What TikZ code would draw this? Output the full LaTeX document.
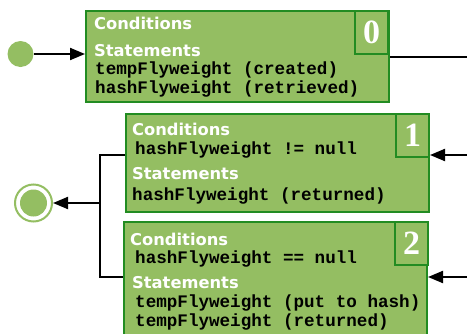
\documentclass[tikz,border=0pt]{standalone}
\usepackage{fontspec}
\setmonofont{Liberation Mono}
\newfontfamily\headfont{DejaVu Sans}
\newfontfamily\numfont{Liberation Serif}
\usetikzlibrary{arrows.meta}
\definecolor{leaf}{RGB}{148,190,98}
\definecolor{moss}{RGB}{34,140,34}

\begin{document}
\begin{tikzpicture}[x=1pt, y=-1pt,
        state/.style={draw=moss, line width=2pt, fill=leaf, anchor=north west, inner sep=0pt},
        numbox/.style={state, minimum width=33pt, minimum height=43pt, text=white, font=\numfont\bfseries\fontsize{34}{34}\selectfont},
        head/.style={anchor=base west, inner sep=0pt, text=white, font=\headfont\bfseries\fontsize{16.3}{18}\selectfont},
        code/.style={anchor=base west, inner sep=0pt, font=\ttfamily\bfseries\fontsize{17.6}{20}\selectfont},
        wire/.style={line width=2pt},
        arr/.style={wire, -{Triangle[length=15pt, width=12pt]}}]
            \useasboundingbox (0, 0) rectangle (467, 333);
            % states with their numbers
            \foreach \i/\x/\y/\h in {0/85/10/91, 1/125/113/98, 2/123/221/116}
                \node[state, minimum width=303pt, minimum height=\h pt] (box\i) at (\x, \y) {};
            \foreach \i/\x/\y in {0/354/10, 1/395/113, 2/394/221}
                \node[numbox] (num\i) at (\x, \y) {\i};

            \node[head] (cond0) at (94, 29) {Conditions};
            \node[head] (stat0) at (94, 56) {Statements};
            \node[code] (code0a) at (95, 74) {tempFlyweight (created)};
            \node[code] (code0b) at (95, 93) {hashFlyweight (retrieved)};

            \node[head] (cond1) at (132, 135) {Conditions};
            \node[code] (code1a) at (135, 154) {hashFlyweight != null};
            \node[head] (stat1) at (132, 179) {Statements};
            \node[code] (code1b) at (132, 200) {hashFlyweight (returned)};

            \node[head] (cond2) at (130, 245) {Conditions};
            \node[code] (code2a) at (135, 263) {hashFlyweight == null};
            \node[head] (stat2) at (132, 288) {Statements};
            \node[code] (code2b) at (135, 307) {tempFlyweight (put to hash)};
            \node[code] (code2c) at (135, 326) {tempFlyweight (returned)};

            % start and end
            \node[circle, fill=leaf, inner sep=0pt, minimum size=26pt] (start) at (20.5, 54) {};
            \node[circle, draw=leaf, line width=2pt, fill=white, inner sep=0pt, minimum size=37pt] (stop) at (33.5, 203) {};
            \node[circle, fill=leaf, inner sep=0pt, minimum size=27pt] (stopdot) at (stop) {};

            % connectors
            \coordinate (out0) at (467, 55);
            \coordinate (in1) at (467, 155);
            \coordinate (in2) at (467, 277);
            \coordinate (fork) at (100, 203);
            \draw[arr] (start) -- (start -| box0.west);
            \draw[wire] (box0.east) -- (box0.east -| out0);
            \draw[arr] (in1) -- (in1 -| box1.east);
            \draw[arr] (in2) -- (in2 -| box2.east);
            \draw[wire] (in1 -| box1.west) -| (fork) |- (in2 -| box2.west);
            \draw[arr] (fork) -- (stop);
        \end{tikzpicture}
\end{document}
